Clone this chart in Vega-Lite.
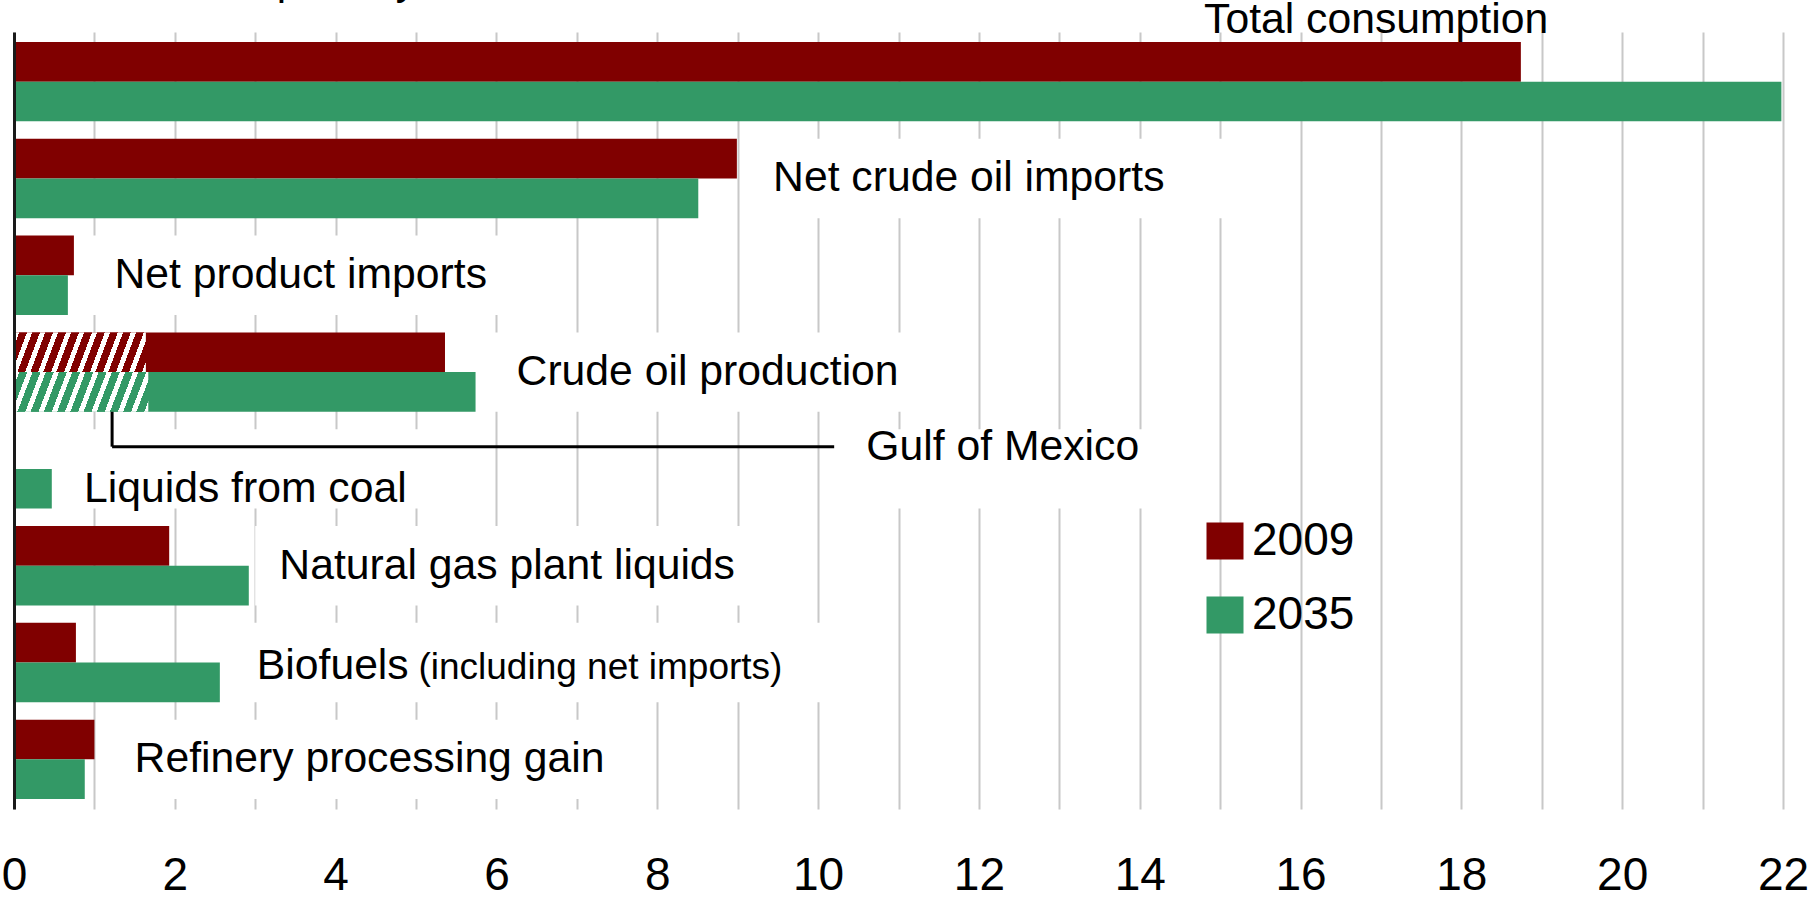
{
  "$schema": "https://vega.github.io/schema/vega-lite/v6.json",
  "width": 1769,
  "height": 777,
  "autosize": {"type": "none"},
  "padding": {"left": 14, "top": 32, "right": 33, "bottom": 93},
  "background": "white",
  "config": {"view": {"stroke": null}, "font": "Liberation Sans"},
  "datasets": {
    "bars": [
      {"cat": "Total consumption", "year": "2009", "value": 18.74},
      {"cat": "Total consumption", "year": "2035", "value": 21.98},
      {"cat": "Net crude oil imports", "year": "2009", "value": 8.99},
      {"cat": "Net crude oil imports", "year": "2035", "value": 8.51},
      {"cat": "Net product imports", "year": "2009", "value": 0.745},
      {"cat": "Net product imports", "year": "2035", "value": 0.67},
      {"cat": "Crude oil production", "year": "2009", "value": 5.36},
      {"cat": "Crude oil production", "year": "2035", "value": 5.74},
      {"cat": "Liquids from coal", "year": "2035", "value": 0.47},
      {"cat": "Natural gas plant liquids", "year": "2009", "value": 1.93},
      {"cat": "Natural gas plant liquids", "year": "2035", "value": 2.92},
      {"cat": "Biofuels", "year": "2009", "value": 0.77},
      {"cat": "Biofuels", "year": "2035", "value": 2.56},
      {"cat": "Refinery processing gain", "year": "2009", "value": 1.0},
      {"cat": "Refinery processing gain", "year": "2035", "value": 0.88}
    ],
    "gulf": [
      {"cat": "Crude oil production", "year": "2009", "value": 1.64},
      {"cat": "Crude oil production", "year": "2035", "value": 1.67}
    ],
    "labels": [
      {"name": "Total consumption", "cat": "Total consumption", "x": 14.8, "box0": null, "box1": null},
      {"name": "Net crude oil imports", "cat": "Net crude oil imports", "x": 9.44, "box0": 9.1, "box1": 15.2},
      {"name": "Net product imports", "cat": "Net product imports", "x": 1.25, "box0": 0.9, "box1": 6.1},
      {"name": "Crude oil production", "cat": "Crude oil production", "x": 6.25, "box0": 5.9, "box1": 11.3},
      {"name": "Liquids from coal", "cat": "Liquids from coal", "x": 0.87, "box0": 0.6, "box1": 5.2},
      {"name": "Gulf of Mexico", "cat": "Liquids from coal", "x": 10.6, "box0": 10.4, "box1": 14.1},
      {"name": "Natural gas plant liquids", "cat": "Natural gas plant liquids", "x": 3.3, "box0": 3.0, "box1": 9.3},
      {"name": "Biofuels", "cat": "Biofuels", "x": 3.02, "box0": 2.8, "box1": 10.3},
      {"name": "(including net imports)", "cat": "Biofuels", "x": 5.03, "box0": null, "box1": null},
      {"name": "Refinery processing gain", "cat": "Refinery processing gain", "x": 1.5, "box0": 1.2, "box1": 7.8},
      {"name": "million barrels per day", "cat": "Total consumption", "x": -0.1, "box0": null, "box1": null}
    ]
  },
  "layer": [
    {
      "data": {"name": "labels"},
      "transform": [{"filter": "datum.box0 != null"}],
      "mark": {"type": "rect", "fill": "white"},
      "encoding": {
        "x": {"field": "box0", "type": "quantitative", "title": null,
          "scale": {"domain": [0, 22], "nice": false, "zero": true},
          "axis": {"values": [0,1,2,3,4,5,6,7,8,9,10,11,12,13,14,15,16,17,18,19,20,21,22],
            "labelExpr": "datum.value % 2 === 0 ? format(datum.value, 'd') : ''",
            "grid": true, "gridColor": "#c8c8c8", "gridWidth": 2,
            "domain": false, "ticks": false, "tickSize": 0,
            "labelFontSize": 46, "labelFont": "Liberation Sans", "labelColor": "black",
            "labelPadding": 44, "labelOverlap": false, "labelFlush": false, "labelBound": false,
            "title": null, "zindex": 0}},
        "x2": {"field": "box1"},
        "y": {"field": "cat", "type": "nominal", "title": null,
          "scale": {"domain": ["Total consumption", "Net crude oil imports", "Net product imports", "Crude oil production", "Liquids from coal", "Natural gas plant liquids", "Biofuels", "Refinery processing gain"],
            "paddingInner": 0.18, "paddingOuter": 0.103},
          "axis": {"labels": false, "ticks": false, "grid": false, "domain": true,
            "domainColor": "#1a1a1a", "domainWidth": 3, "title": null, "zindex": 2}}
      }
    },
    {
      "data": {"name": "bars"},
      "mark": {"type": "bar"},
      "encoding": {
        "x": {"field": "value", "type": "quantitative", "title": null},
        "y": {"field": "cat", "type": "nominal", "title": null},
        "yOffset": {"field": "year", "type": "nominal", "scale": {"domain": ["2009", "2035"]}},
        "color": {"field": "year", "type": "nominal",
          "scale": {"domain": ["2009", "2035"], "range": ["#800000", "#339966"]},
          "legend": {"orient": "none", "legendX": 1188, "legendY": 486, "title": null,
            "symbolType": "square", "symbolSize": 1369, "symbolStrokeWidth": 0, "symbolOpacity": 1,
            "labelFontSize": 46, "labelFont": "Liberation Sans", "labelColor": "black",
            "labelOffset": 4, "rowPadding": 28, "padding": 0}}
      }
    },
    {
      "data": {"name": "gulf"},
      "transform": [{"filter": "datum.year == '2009'"}],
      "mark": {"type": "bar", "fill": {"gradient": "linear", "x1": 0, "y1": 0, "x2": 1.0988, "y2": 0.124,
        "stops": [
          {"offset": 0, "color": "#ffffff"}, {"offset": 0.0354, "color": "#ffffff"}, {"offset": 0.0354, "color": "#800000"}, {"offset": 0.0885, "color": "#800000"},
          {"offset": 0.0885, "color": "#ffffff"}, {"offset": 0.1239, "color": "#ffffff"}, {"offset": 0.1239, "color": "#800000"}, {"offset": 0.177, "color": "#800000"},
          {"offset": 0.177, "color": "#ffffff"}, {"offset": 0.2124, "color": "#ffffff"}, {"offset": 0.2124, "color": "#800000"}, {"offset": 0.2655, "color": "#800000"},
          {"offset": 0.2655, "color": "#ffffff"}, {"offset": 0.3009, "color": "#ffffff"}, {"offset": 0.3009, "color": "#800000"}, {"offset": 0.354, "color": "#800000"},
          {"offset": 0.354, "color": "#ffffff"}, {"offset": 0.3894, "color": "#ffffff"}, {"offset": 0.3894, "color": "#800000"}, {"offset": 0.4425, "color": "#800000"},
          {"offset": 0.4425, "color": "#ffffff"}, {"offset": 0.4779, "color": "#ffffff"}, {"offset": 0.4779, "color": "#800000"}, {"offset": 0.531, "color": "#800000"},
          {"offset": 0.531, "color": "#ffffff"}, {"offset": 0.5664, "color": "#ffffff"}, {"offset": 0.5664, "color": "#800000"}, {"offset": 0.6195, "color": "#800000"},
          {"offset": 0.6195, "color": "#ffffff"}, {"offset": 0.6549, "color": "#ffffff"}, {"offset": 0.6549, "color": "#800000"}, {"offset": 0.708, "color": "#800000"},
          {"offset": 0.708, "color": "#ffffff"}, {"offset": 0.7434, "color": "#ffffff"}, {"offset": 0.7434, "color": "#800000"}, {"offset": 0.7965, "color": "#800000"},
          {"offset": 0.7965, "color": "#ffffff"}, {"offset": 0.8319, "color": "#ffffff"}, {"offset": 0.8319, "color": "#800000"}, {"offset": 0.885, "color": "#800000"},
          {"offset": 0.885, "color": "#ffffff"}, {"offset": 0.9204, "color": "#ffffff"}, {"offset": 0.9204, "color": "#800000"}, {"offset": 0.9735, "color": "#800000"},
          {"offset": 0.9735, "color": "#ffffff"}, {"offset": 1, "color": "#ffffff"}
        ]}},
      "encoding": {
        "x": {"field": "value", "type": "quantitative", "title": null},
        "y": {"field": "cat", "type": "nominal", "title": null},
        "yOffset": {"field": "year", "type": "nominal"}
      }
    },
    {
      "data": {"name": "gulf"},
      "transform": [{"filter": "datum.year == '2035'"}],
      "mark": {"type": "bar", "fill": {"gradient": "linear", "x1": 0, "y1": 0, "x2": 1.0988, "y2": 0.124,
        "stops": [
          {"offset": 0, "color": "#ffffff"}, {"offset": 0.0354, "color": "#ffffff"}, {"offset": 0.0354, "color": "#339966"}, {"offset": 0.0885, "color": "#339966"},
          {"offset": 0.0885, "color": "#ffffff"}, {"offset": 0.1239, "color": "#ffffff"}, {"offset": 0.1239, "color": "#339966"}, {"offset": 0.177, "color": "#339966"},
          {"offset": 0.177, "color": "#ffffff"}, {"offset": 0.2124, "color": "#ffffff"}, {"offset": 0.2124, "color": "#339966"}, {"offset": 0.2655, "color": "#339966"},
          {"offset": 0.2655, "color": "#ffffff"}, {"offset": 0.3009, "color": "#ffffff"}, {"offset": 0.3009, "color": "#339966"}, {"offset": 0.354, "color": "#339966"},
          {"offset": 0.354, "color": "#ffffff"}, {"offset": 0.3894, "color": "#ffffff"}, {"offset": 0.3894, "color": "#339966"}, {"offset": 0.4425, "color": "#339966"},
          {"offset": 0.4425, "color": "#ffffff"}, {"offset": 0.4779, "color": "#ffffff"}, {"offset": 0.4779, "color": "#339966"}, {"offset": 0.531, "color": "#339966"},
          {"offset": 0.531, "color": "#ffffff"}, {"offset": 0.5664, "color": "#ffffff"}, {"offset": 0.5664, "color": "#339966"}, {"offset": 0.6195, "color": "#339966"},
          {"offset": 0.6195, "color": "#ffffff"}, {"offset": 0.6549, "color": "#ffffff"}, {"offset": 0.6549, "color": "#339966"}, {"offset": 0.708, "color": "#339966"},
          {"offset": 0.708, "color": "#ffffff"}, {"offset": 0.7434, "color": "#ffffff"}, {"offset": 0.7434, "color": "#339966"}, {"offset": 0.7965, "color": "#339966"},
          {"offset": 0.7965, "color": "#ffffff"}, {"offset": 0.8319, "color": "#ffffff"}, {"offset": 0.8319, "color": "#339966"}, {"offset": 0.885, "color": "#339966"},
          {"offset": 0.885, "color": "#ffffff"}, {"offset": 0.9204, "color": "#ffffff"}, {"offset": 0.9204, "color": "#339966"}, {"offset": 0.9735, "color": "#339966"},
          {"offset": 0.9735, "color": "#ffffff"}, {"offset": 1, "color": "#ffffff"}
        ]}},
      "encoding": {
        "x": {"field": "value", "type": "quantitative", "title": null},
        "y": {"field": "cat", "type": "nominal", "title": null},
        "yOffset": {"field": "year", "type": "nominal"}
      }
    },
    {
      "data": {"values": [{"x": 1.22, "x_end": 10.2, "from": "Crude oil production", "to": "Liquids from coal"}]},
      "mark": {"type": "rule", "color": "black", "strokeWidth": 3},
      "encoding": {
        "x": {"field": "x", "type": "quantitative", "title": null},
        "y": {"field": "from", "type": "nominal", "bandPosition": 1, "title": null},
        "y2": {"field": "to", "bandPosition": 0.22}
      }
    },
    {
      "data": {"values": [{"x": 1.22, "x_end": 10.2, "from": "Crude oil production", "to": "Liquids from coal"}]},
      "mark": {"type": "rule", "color": "black", "strokeWidth": 3},
      "encoding": {
        "x": {"field": "x", "type": "quantitative", "title": null},
        "x2": {"field": "x_end"},
        "y": {"field": "to", "type": "nominal", "bandPosition": 0.22, "title": null}
      }
    },
    {
      "data": {"name": "labels"},
      "transform": [{"filter": "indexof(['Net crude oil imports','Net product imports','Crude oil production','Natural gas plant liquids','Refinery processing gain'], datum.name) >= 0"}],
      "mark": {"type": "text", "align": "left", "baseline": "alphabetic", "dy": 13, "fontSize": 42.7, "font": "Liberation Sans", "color": "black"},
      "encoding": {
        "x": {"field": "x", "type": "quantitative", "title": null},
        "y": {"field": "cat", "type": "nominal", "title": null},
        "text": {"field": "name"}
      }
    },
    {
      "data": {"name": "labels"},
      "transform": [{"filter": "datum.name == 'Total consumption'"}],
      "mark": {"type": "text", "align": "left", "baseline": "alphabetic", "dy": -49, "fontSize": 42.7, "font": "Liberation Sans", "color": "black"},
      "encoding": {
        "x": {"field": "x", "type": "quantitative", "title": null},
        "y": {"field": "cat", "type": "nominal", "title": null},
        "text": {"field": "name"}
      }
    },
    {
      "data": {"name": "labels"},
      "transform": [{"filter": "datum.name == 'million barrels per day'"}],
      "mark": {"type": "text", "align": "left", "baseline": "alphabetic", "dy": -48, "fontSize": 42, "font": "Liberation Sans", "color": "black"},
      "encoding": {
        "x": {"field": "x", "type": "quantitative", "title": null},
        "y": {"field": "cat", "type": "nominal", "bandPosition": 0, "title": null},
        "text": {"field": "name"}
      }
    },
    {
      "data": {"name": "labels"},
      "transform": [{"filter": "datum.name == 'Liquids from coal'"}],
      "mark": {"type": "text", "align": "left", "baseline": "alphabetic", "dy": 13, "fontSize": 42.7, "font": "Liberation Sans", "color": "black"},
      "encoding": {
        "x": {"field": "x", "type": "quantitative", "title": null},
        "y": {"field": "cat", "type": "nominal", "bandPosition": 0.75, "title": null},
        "text": {"field": "name"}
      }
    },
    {
      "data": {"name": "labels"},
      "transform": [{"filter": "datum.name == 'Gulf of Mexico'"}],
      "mark": {"type": "text", "align": "left", "baseline": "alphabetic", "dy": 13, "fontSize": 42.7, "font": "Liberation Sans", "color": "black"},
      "encoding": {
        "x": {"field": "x", "type": "quantitative", "title": null},
        "y": {"field": "cat", "type": "nominal", "bandPosition": 0.22, "title": null},
        "text": {"field": "name"}
      }
    },
    {
      "data": {"name": "labels"},
      "transform": [{"filter": "datum.name == 'Biofuels'"}],
      "mark": {"type": "text", "align": "left", "baseline": "alphabetic", "dy": 16, "fontSize": 42.7, "font": "Liberation Sans", "color": "black"},
      "encoding": {
        "x": {"field": "x", "type": "quantitative", "title": null},
        "y": {"field": "cat", "type": "nominal", "title": null},
        "text": {"field": "name"}
      }
    },
    {
      "data": {"name": "labels"},
      "transform": [{"filter": "datum.name == '(including net imports)'"}],
      "mark": {"type": "text", "align": "left", "baseline": "alphabetic", "dy": 16, "fontSize": 37, "font": "Liberation Sans", "color": "black"},
      "encoding": {
        "x": {"field": "x", "type": "quantitative", "title": null},
        "y": {"field": "cat", "type": "nominal", "title": null},
        "text": {"field": "name"}
      }
    }
  ]
}
